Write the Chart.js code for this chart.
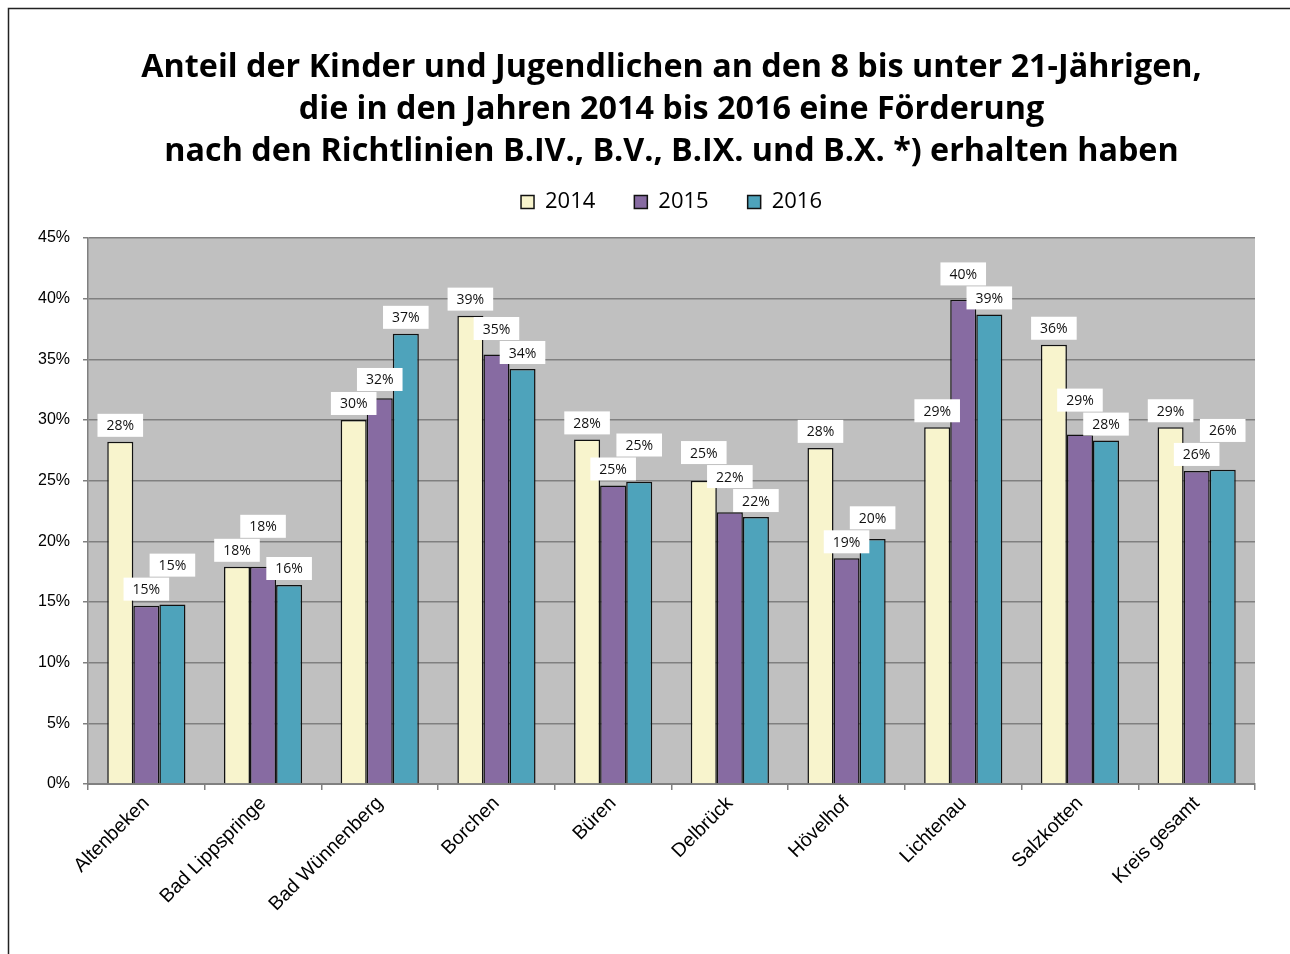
<!DOCTYPE html>
<html>
<head>
<meta charset="utf-8">
<script src="https://cdn.jsdelivr.net/npm/chart.js@4.4.1/dist/chart.umd.min.js"></script>
<style>
  html, body { margin: 0; padding: 0; background: #fff; }
  #wrap { position: relative; width: 1290px; height: 954px; }
</style>
</head>
<body>
<div id="wrap"><canvas id="chart"></canvas></div>
<script>
// Data (percent)
const categories = ['Altenbeken', 'Bad Lippspringe', 'Bad Wünnenberg', 'Borchen', 'Büren',
    'Delbrück', 'Hövelhof', 'Lichtenau', 'Salzkotten', 'Kreis gesamt'];
const years = ['2014', '2015', '2016'];
const values2014 = [28.2, 17.9, 30.0, 38.6, 28.4, 25.0, 27.7, 29.4, 36.2, 29.4];
const values2015 = [14.7, 17.9, 31.8, 35.4, 24.6, 22.4, 18.6, 39.9, 28.8, 25.8];
const values2016 = [14.8, 16.4, 37.1, 34.2, 24.9, 22.0, 20.2, 38.7, 28.3, 25.9];
const yTicks = [0, 5, 10, 15, 20, 25, 30, 35, 40, 45];

const titleLines = [
    'Anteil der Kinder und Jugendlichen an den 8 bis unter 21-Jährigen,',
    'die in den Jahren 2014 bis 2016 eine Förderung',
    'nach den Richtlinien B.IV., B.V., B.IX. und B.X. *) erhalten haben'
];

const colors = ['#f8f4cd', '#876ba2', '#4ea3bb'];

// Gray plot background + outer frame
const backdrop = {
    id: 'backdrop',
    beforeDraw(chart) {
        const { ctx, chartArea: a } = chart;
        ctx.save();
        ctx.fillStyle = '#c0c0c0';
        ctx.fillRect(a.left, a.top, a.right - a.left, a.bottom - a.top);
        ctx.strokeStyle = '#222';
        ctx.lineWidth = 1.5;
        ctx.beginPath();
        ctx.moveTo(8.5, chart.height + 5);
        ctx.lineTo(8.5, 8.5);
        ctx.lineTo(chart.width + 5, 8.5);
        ctx.stroke();
        ctx.restore();
    }
};

// White boxed value labels above each bar; lower bars are labelled first,
// higher ones get pushed up when their box would collide
const valueLabels = {
    id: 'valueLabels',
    afterDatasetsDraw(chart) {
        const { ctx } = chart;
        ctx.save();
        ctx.font = '14px "Open Sans", sans-serif';
        ctx.textAlign = 'center';
        ctx.textBaseline = 'middle';
        const h = 23;
        categories.forEach((c, i) => {
            const placed = [];
            const order = chart.data.datasets.map((ds, d) => d)
                .sort((a, b) => chart.data.datasets[a].data[i] - chart.data.datasets[b].data[i]);
            order.forEach(d => {
                const ds = chart.data.datasets[d];
                const bar = chart.getDatasetMeta(d).data[i];
                const txt = Math.round(ds.data[i]) + '%';
                const w = ctx.measureText(txt).width + 18;
                let box = { x: bar.x - w / 2, y: bar.y - 5 - h, w, h };
                let moved = true;
                while (moved) {
                    moved = false;
                    placed.forEach(p => {
                        if (box.x < p.x + p.w && box.x + box.w > p.x && box.y < p.y + p.h && box.y + box.h > p.y) {
                            box.y = p.y - h - 1;
                            moved = true;
                        }
                    });
                }
                placed.push(box);
                ctx.fillStyle = '#fff';
                ctx.fillRect(box.x, box.y, box.w, box.h);
                ctx.fillStyle = '#111';
                ctx.fillText(txt, box.x + box.w / 2, box.y + box.h / 2 + 1);
            });
        });
        ctx.restore();
    }
};

const seriesData = [values2014, values2015, values2016];

new Chart(document.getElementById('chart'), {
    type: 'bar',
    data: {
        labels: categories,
        datasets: years.map((y, k) => ({
            label: y,
            data: seriesData[k],
            backgroundColor: colors[k],
            borderColor: '#111',
            borderWidth: 1.5,
            borderSkipped: 'bottom',
            categoryPercentage: 0.67,
            barPercentage: 1.0
        }))
    },
    options: {
        responsive: true,
        maintainAspectRatio: false,
        animation: false,
        layout: { padding: { left: 20, right: 35, top: 47, bottom: 0 } },
        plugins: {
            title: {
                display: true,
                fullSize: false,
                text: titleLines,
                color: '#000',
                font: { family: '"Open Sans", sans-serif', size: 32.3, weight: 'bold', lineHeight: 1.3 },
                padding: { top: 0, bottom: -21 }
            },
            // empty spacer between legend and plot
            subtitle: {
                display: true,
                fullSize: false,
                text: '',
                weight: 500,
                font: { size: 1, lineHeight: 1 },
                padding: { top: 14, bottom: 0 }
            },
            legend: {
                display: true,
                fullSize: false,
                labels: {
                    color: '#000',
                    boxWidth: 13,
                    boxHeight: 13,
                    padding: 39,
                    font: { family: '"Open Sans", sans-serif', size: 22 }
                }
            },
            tooltip: { enabled: false }
        },
        scales: {
            x: {
                grid: { drawOnChartArea: false, offset: true, tickLength: 6, color: '#808080', lineWidth: 1.5 },
                border: { color: '#808080', width: 2 },
                ticks: {
                    color: '#000',
                    minRotation: 45,
                    maxRotation: 45,
                    padding: 2,
                    font: { family: '"Liberation Sans", Arial, sans-serif', size: 19.5 }
                },
                afterFit(scale) { scale.height = 170; }
            },
            y: {
                min: 0,
                max: 45,
                afterBuildTicks(scale) { scale.ticks = yTicks.map(v => ({ value: v })); },
                grid: { color: '#808080', lineWidth: 1.5, tickLength: 5, drawTicks: true },
                border: { color: '#808080', width: 1.5 },
                ticks: {
                    color: '#000',
                    padding: 13,
                    font: { family: '"Liberation Sans", Arial, sans-serif', size: 16 },
                    callback: v => v + '%'
                },
                afterFit(scale) { scale.width = 68; }
            }
        }
    },
    plugins: [backdrop, valueLabels]
});
</script>
</body>
</html>
